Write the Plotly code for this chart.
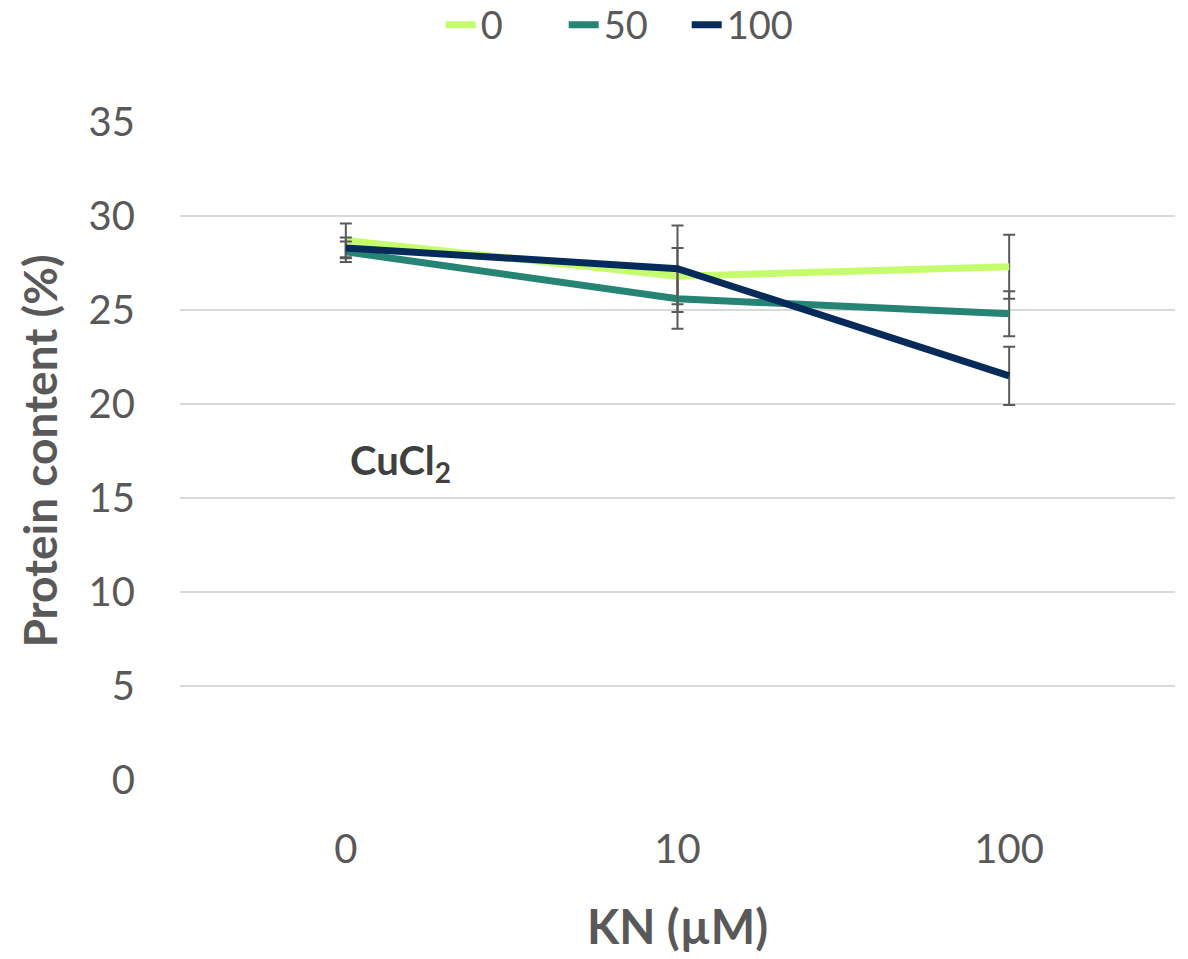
import plotly.graph_objects as go

# KN concentration (µM) on the x axis, CuCl2 levels as series
kn_levels = ["0", "10", "100"]
series_names = ["0", "50", "100"]
protein = {
    "0": [28.7, 26.8, 27.3],
    "50": [28.1, 25.6, 24.8],
    "100": [28.3, 27.2, 21.5],
}
errors = {
    "0": [0.9, 1.5, 1.7],
    "50": [0.55, 1.6, 1.2],
    "100": [0.55, 2.3, 1.55],
}
colors = {"0": "#C5FC6E", "50": "#268474", "100": "#062B5A"}

fig = go.Figure()
for name in series_names:
    fig.add_trace(go.Scatter(
        x=kn_levels,
        y=protein[name],
        name=name,
        mode="lines",
        line=dict(color=colors[name], width=7),
        error_y=dict(type="data", array=errors[name], visible=True,
                     color="#595959", thickness=2, width=6),
    ))

font_family = "Lato, 'Open Sans', sans-serif"
fig.update_layout(
    width=1188, height=959,
    margin=dict(l=180, r=13, t=122, b=179, autoexpand=False),
    plot_bgcolor="white", paper_bgcolor="white",
    font=dict(family=font_family, color="#595959", size=40),
    showlegend=True,
    legend=dict(orientation="h", x=0.262, xanchor="left",
                yref="container", y=0.974, yanchor="middle",
                font=dict(size=38, color="#595959"),
                entrywidth=78, entrywidthmode="pixels",
                tracegroupgap=0),
    xaxis=dict(
        type="category", range=[-0.5, 2.5],
        showgrid=False, zeroline=False, showline=False,
        ticks="", ticklabelstandoff=42,
        tickfont=dict(size=40, color="#595959"),
        title=dict(text="<b>KN (µM)</b>", font=dict(size=47, color="#595959"), standoff=40),
    ),
    yaxis=dict(
        range=[0, 35], dtick=5,
        showgrid=True, gridcolor="#D9D9D9", gridwidth=1.5,
        zeroline=False, showline=False,
        ticks="", ticklabelstandoff=44,
        tickfont=dict(size=40, color="#595959"),
        title=dict(text="<b>Protein content (%)</b>", font=dict(size=46, color="#595959"), standoff=16),
    ),
    annotations=[dict(
        text="<b>CuCl<sub>2</sub></b>", x=0, y=16.9, xref="x", yref="y",
        xanchor="left", yanchor="middle", xshift=2, showarrow=False,
        font=dict(size=40, color="#404040", family=font_family),
    )],
)

fig.write_html("out.html")
